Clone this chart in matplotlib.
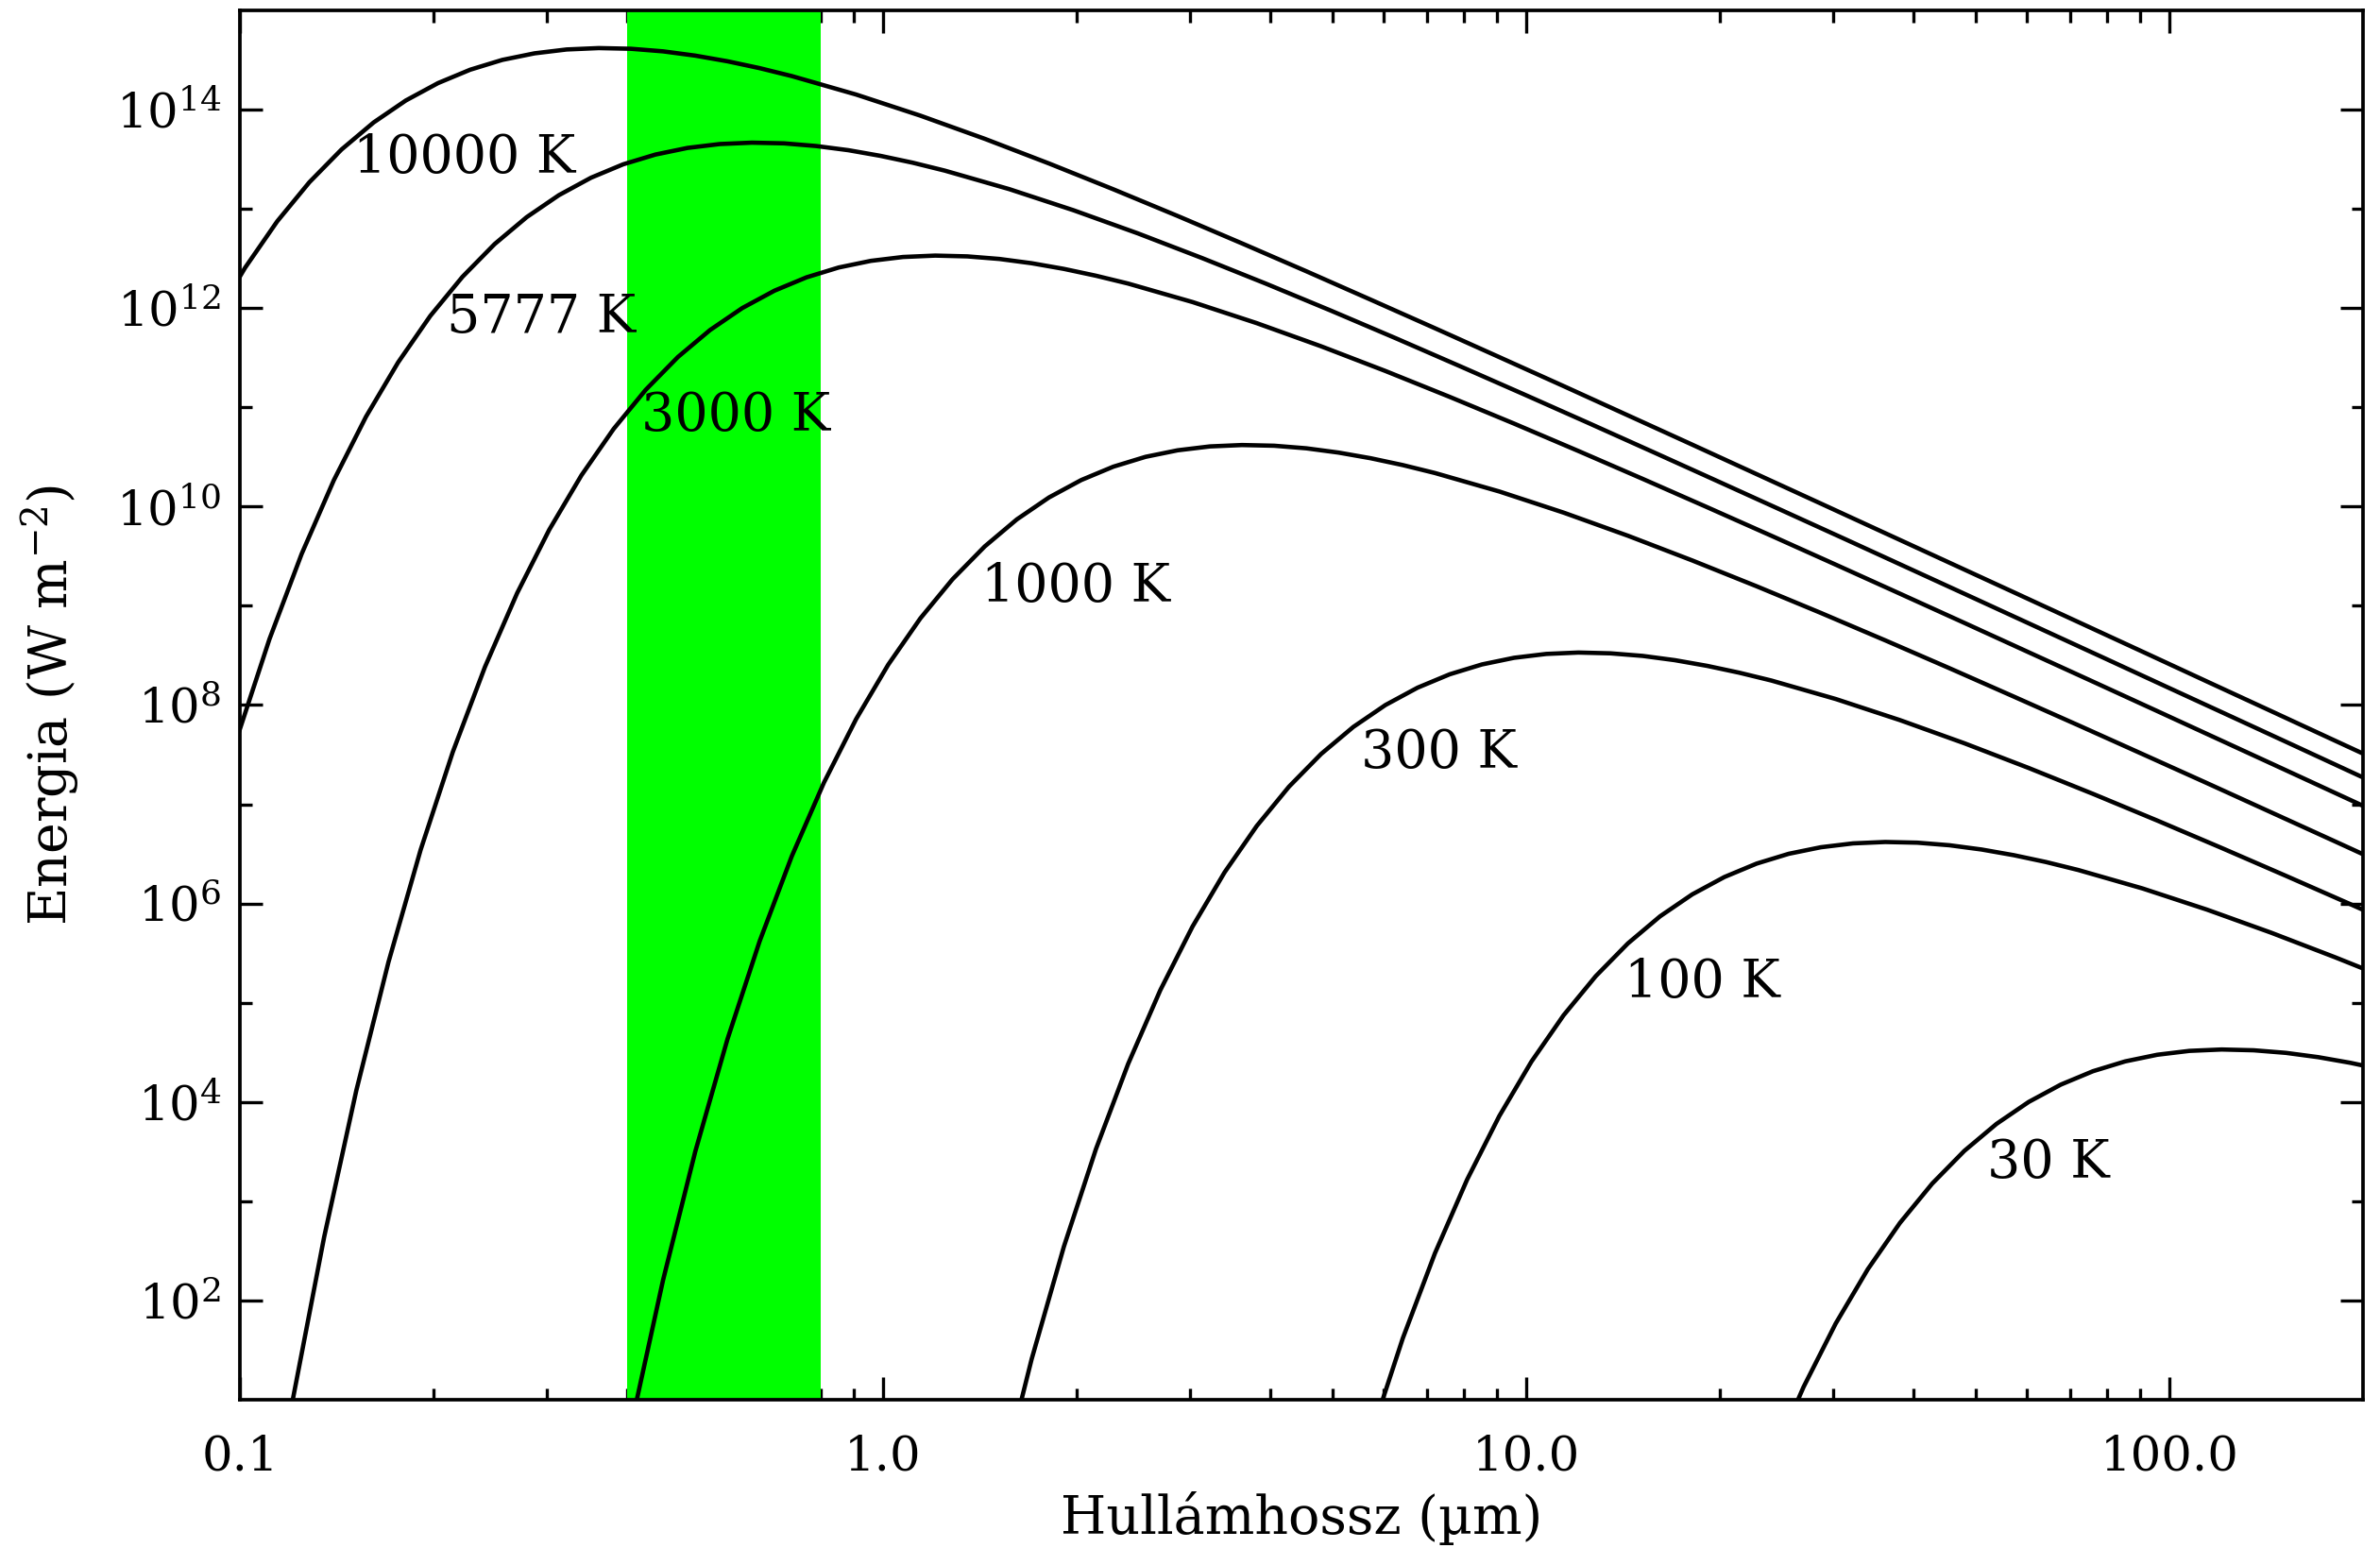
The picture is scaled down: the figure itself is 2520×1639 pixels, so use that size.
import numpy as np
import matplotlib
matplotlib.use("Agg")
import matplotlib.pyplot as plt
from matplotlib.ticker import NullFormatter

plt.rcParams['font.family'] = 'DejaVu Serif'
plt.rcParams['mathtext.fontset'] = 'dejavuserif'

# Curves: log10 of wavelength [um] and log10 of energy [W m^-2]
log_lam_10000 = [-1.042, -0.992, -0.942, -0.892, -0.842, -0.792, -0.742, -0.692, -0.642, -0.592,
                 -0.542, -0.492, -0.442, -0.392, -0.342, -0.292, -0.242, -0.192, -0.142, -0.042,
                 0.058, 0.158, 0.258, 0.358, 0.458, 0.558, 0.658, 0.758, 0.858, 0.958,
                 1.058, 1.158, 1.258, 1.358, 1.458, 1.558, 1.658, 1.758, 1.858, 1.958,
                 2.058, 2.158, 2.258, 2.358]
log_e_10000 = [11.858, 12.406, 12.874, 13.268, 13.598, 13.871, 14.092, 14.267, 14.402, 14.501,
               14.567, 14.606, 14.620, 14.613, 14.587, 14.544, 14.487, 14.418, 14.338, 14.152,
               13.939, 13.706, 13.457, 13.197, 12.928, 12.652, 12.371, 12.085, 11.797, 11.506,
               11.214, 10.919, 10.624, 10.327, 10.030, 9.732, 9.434, 9.136, 8.837, 8.538,
               8.238, 7.939, 7.639, 7.340]

log_lam_5777 = [-1.004, -0.954, -0.904, -0.854, -0.804, -0.754, -0.704, -0.654, -0.604, -0.554,
                -0.504, -0.454, -0.404, -0.354, -0.304, -0.254, -0.204, -0.154, -0.104, -0.054,
                -0.004, 0.046, 0.096, 0.196, 0.296, 0.396, 0.496, 0.596, 0.696, 0.796,
                0.896, 0.996, 1.096, 1.196, 1.296, 1.396, 1.496, 1.596, 1.696, 1.796,
                1.896, 1.996, 2.096, 2.196, 2.296, 2.396]
log_e_5777 = [7.679, 8.665, 9.523, 10.265, 10.905, 11.453, 11.921, 12.315, 12.645, 12.917,
              13.138, 13.314, 13.449, 13.547, 13.614, 13.653, 13.667, 13.660, 13.633, 13.591,
              13.534, 13.465, 13.385, 13.199, 12.986, 12.753, 12.504, 12.244, 11.975, 11.699,
              11.417, 11.132, 10.844, 10.553, 10.260, 9.966, 9.671, 9.374, 9.077, 8.779,
              8.481, 8.182, 7.884, 7.585, 7.285, 6.986]

log_lam_3000 = [-0.919, -0.869, -0.819, -0.769, -0.719, -0.669, -0.619, -0.569, -0.519, -0.469,
                -0.419, -0.369, -0.319, -0.269, -0.219, -0.169, -0.119, -0.069, -0.019, 0.031,
                0.081, 0.131, 0.181, 0.231, 0.281, 0.331, 0.381, 0.481, 0.581, 0.681,
                0.781, 0.881, 0.981, 1.081, 1.181, 1.281, 1.381, 1.481, 1.581, 1.681,
                1.781, 1.881, 1.981, 2.081, 2.181, 2.281, 2.381]
log_e_3000 = [0.960, 2.640, 4.116, 5.410, 6.541, 7.527, 8.384, 9.127, 9.767, 10.315,
              10.782, 11.177, 11.507, 11.779, 12.000, 12.175, 12.310, 12.409, 12.476, 12.515,
              12.529, 12.521, 12.495, 12.452, 12.395, 12.326, 12.247, 12.061, 11.848, 11.615,
              11.366, 11.105, 10.836, 10.560, 10.279, 9.994, 9.706, 9.415, 9.122, 8.828,
              8.532, 8.236, 7.939, 7.641, 7.343, 7.044, 6.745]

log_lam_1000 = [-0.392, -0.342, -0.292, -0.242, -0.192, -0.142, -0.092, -0.042, 0.008, 0.058,
                0.108, 0.158, 0.208, 0.258, 0.308, 0.358, 0.408, 0.458, 0.508, 0.558,
                0.608, 0.658, 0.708, 0.758, 0.808, 0.858, 0.958, 1.058, 1.158, 1.258,
                1.358, 1.458, 1.558, 1.658, 1.758, 1.858, 1.958, 2.058, 2.158, 2.258, 2.358]
log_e_1000 = [0.732, 2.208, 3.501, 4.632, 5.619, 6.476, 7.218, 7.858, 8.407, 8.874,
              9.268, 9.598, 9.871, 10.092, 10.267, 10.402, 10.501, 10.567, 10.606, 10.620,
              10.613, 10.587, 10.544, 10.487, 10.418, 10.338, 10.152, 9.939, 9.706, 9.457,
              9.197, 8.928, 8.652, 8.371, 8.085, 7.797, 7.506, 7.214, 6.919, 6.624, 6.327]

log_lam_300 = [0.181, 0.231, 0.281, 0.331, 0.381, 0.431, 0.481, 0.531, 0.581, 0.631,
               0.681, 0.731, 0.781, 0.831, 0.881, 0.931, 0.981, 1.031, 1.081, 1.131,
               1.181, 1.231, 1.281, 1.331, 1.381, 1.481, 1.581, 1.681, 1.781, 1.881,
               1.981, 2.081, 2.181, 2.281, 2.381]
log_e_300 = [0.116, 1.410, 2.541, 3.527, 4.384, 5.127, 5.767, 6.315, 6.782, 7.177,
             7.507, 7.779, 8.000, 8.175, 8.310, 8.409, 8.476, 8.515, 8.529, 8.521,
             8.495, 8.452, 8.395, 8.326, 8.247, 8.061, 7.848, 7.615, 7.366, 7.105,
             6.836, 6.560, 6.279, 5.994, 5.706]

log_lam_100 = [0.758, 0.808, 0.858, 0.908, 0.958, 1.008, 1.058, 1.108, 1.158, 1.208,
               1.258, 1.308, 1.358, 1.408, 1.458, 1.508, 1.558, 1.608, 1.658, 1.708,
               1.758, 1.808, 1.858, 1.958, 2.058, 2.158, 2.258, 2.358]
log_e_100 = [0.632, 1.619, 2.476, 3.218, 3.858, 4.407, 4.874, 5.268, 5.598, 5.871,
             6.092, 6.267, 6.402, 6.501, 6.567, 6.606, 6.620, 6.613, 6.587, 6.544,
             6.487, 6.418, 6.338, 6.152, 5.939, 5.706, 5.457, 5.197]

log_lam_30 = [1.381, 1.431, 1.481, 1.531, 1.581, 1.631, 1.681, 1.731, 1.781, 1.831,
              1.881, 1.931, 1.981, 2.031, 2.081, 2.131, 2.181, 2.231, 2.281, 2.331]
log_e_30 = [0.384, 1.127, 1.767, 2.315, 2.782, 3.177, 3.507, 3.779, 4.000, 4.175,
            4.310, 4.409, 4.476, 4.515, 4.529, 4.521, 4.495, 4.452, 4.395, 4.326]

curve_labels = ['10000 K', '5777 K', '3000 K', '1000 K', '300 K', '100 K', '30 K']
label_lam = [0.150, 0.210, 0.421, 1.42, 5.53, 14.2, 52.1]      # left edge of each label
label_log_e = [13.51, 11.90, 10.91, 9.19, 7.51, 5.20, 3.38]    # vertical centre
visible_band = [0.4, 0.8]

curves = [(log_lam_10000, log_e_10000), (log_lam_5777, log_e_5777),
          (log_lam_3000, log_e_3000), (log_lam_1000, log_e_1000),
          (log_lam_300, log_e_300), (log_lam_100, log_e_100),
          (log_lam_30, log_e_30)]

fig = plt.figure(figsize=(25.2, 16.39), dpi=100)
ax = fig.add_axes([0.1008, 0.0958, 0.8921, 0.8975])

# visible light band, drawn over the ticks but under the curves
ax.axvspan(visible_band[0], visible_band[1], color='#00ff00', lw=0, zorder=1.8)

for lam, e in curves:
    ax.plot(10 ** np.array(lam), 10 ** np.array(e), color='black', lw=3.3,
            solid_joinstyle='round', zorder=2)

for txt, lx, ly in zip(curve_labels, label_lam, label_log_e):
    ax.text(lx, 10 ** ly, txt, fontsize=40, ha='left', va='center', zorder=3)

ax.set_xscale('log')
ax.set_yscale('log')
ax.set_xlim(0.1, 200)
ax.set_ylim(10, 1e15)

ax.set_xticks([0.1, 1, 10, 100], labels=['0.1', '1.0', '10.0', '100.0'])
ax.set_xticks([k * 10.0 ** d for d in (-1, 0, 1) for k in range(2, 10)], minor=True)
ax.set_yticks([10.0 ** k for k in range(2, 15, 2)],
              labels=['$10^{%d}$' % k for k in range(2, 15, 2)])
ax.set_yticks([10.0 ** k for k in range(3, 15, 2)], minor=True)
ax.xaxis.set_minor_formatter(NullFormatter())
ax.yaxis.set_minor_formatter(NullFormatter())

ax.tick_params(which='both', direction='in', top=True, right=True, width=2.4, color='black')
ax.tick_params(which='major', length=17)
ax.tick_params(which='minor', length=9)
ax.tick_params(axis='x', which='major', labelsize=37, pad=26)
ax.tick_params(axis='y', which='major', labelsize=37, pad=14)
for s in ax.spines.values():
    s.set_linewidth(2.7)

ax.set_xlabel('Hullámhossz (µm)', fontsize=40)
ax.xaxis.label.set_va('center')
ax.xaxis.set_label_coords(0.5, -0.085)
ax.set_ylabel('Energia (W m$^{-2}$)', fontsize=40)
ax.yaxis.label.set_va('center')
ax.yaxis.set_label_coords(-0.0894, 0.5)

fig.savefig('out.png', dpi=100)
